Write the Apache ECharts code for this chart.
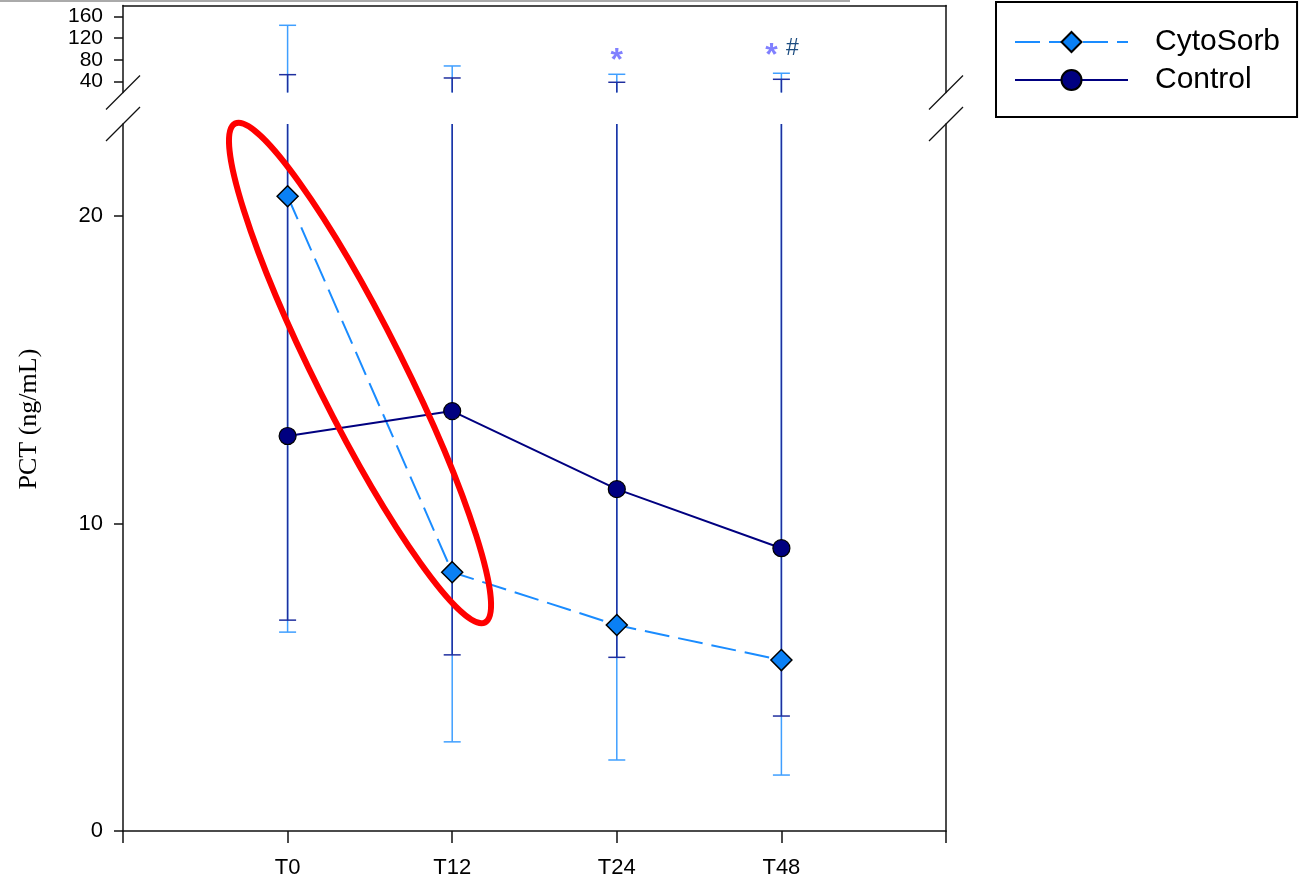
<!DOCTYPE html>
<html><head><meta charset="utf-8">
<script src="https://cdn.jsdelivr.net/npm/echarts@6/dist/echarts.min.js"></script>
<style>html,body{margin:0;padding:0;background:#fff}#c{width:1308px;height:882px}</style>
</head><body><div id="c"></div>
<script>
// ---- data ----
const categories = ['T0', 'T12', 'T24', 'T48'];
const cytoMean = [20.65, 8.42, 6.70, 5.56];
const cytoLow  = [6.47, 2.90, 2.31, 1.82];
const cytoHigh = [143.6, 68.8, 53.5, 55.4];
const ctrlMean = [12.85, 13.66, 11.12, 9.20];
const ctrlLow  = [6.86, 5.73, 5.65, 3.74];
const ctrlHigh = [52.8, 46.7, 38.8, 44.3];
const sigStarLevel = [null, null, 92, 101];   // '*' markers
const sigHashLevel = [null, null, null, 101]; // '#' markers
const upperTicks = [40, 80, 120, 160];
const lowerTicks = [0, 10, 20];
const yTitle = 'PCT (ng/mL)';

const FONT = '"Liberation Sans", Arial, sans-serif';
const AX = '#111';
const chart = echarts.init(document.getElementById('c'));

function errRender(color) {
  return function (params, api) {
    const x = api.value(0);
    const pLow = api.coord([x, api.value(1)]);
    const pHigh = api.coord([x, api.value(2)]);
    const cs = params.coordSys;
    const yTop = cs.y, yBot = cs.y + cs.height;
    const a = Math.max(pHigh[1], yTop), b = Math.min(pLow[1], yBot);
    const children = [];
    const style = { stroke: color, lineWidth: 1.5 };
    const hw = 8.5;
    if (b > a) children.push({ type: 'line', shape: { x1: pLow[0], y1: a, x2: pLow[0], y2: b }, style });
    [pLow, pHigh].forEach(p => {
      if (p[1] >= yTop - 0.5 && p[1] <= yBot + 0.5)
        children.push({ type: 'line', shape: { x1: p[0] - hw, y1: p[1], x2: p[0] + hw, y2: p[1] }, style });
    });
    return { type: 'group', children };
  };
}
function sigRender(ch, color, font, dy) {
  return function (params, api) {
    const v = api.value(1);
    if (isNaN(v)) return null;
    const i = api.value(0);
    const p = api.coord([i, v]);
    let shift = 0;
    if (ch === '*' && sigHashLevel[i] != null) shift = -10;
    if (ch === '#') shift = 11;
    return { type: 'text', x: p[0] + shift, y: p[1] + dy,
      style: { text: ch, fill: color, font: font, align: 'center', verticalAlign: 'middle' } };
  };
}
const errData = (lo, hi) => categories.map((c, i) => [i, lo[i], hi[i]]);
const ptData = (m) => categories.map((c, i) => [i, m[i]]);

const series = [];
[[0, 0], [1, 2]].forEach(([xi, yi]) => {
  series.push({ type: 'custom', xAxisIndex: xi, yAxisIndex: yi, z: 2, silent: true,
    renderItem: errRender('#3f9fff'), data: errData(cytoLow, cytoHigh), encode: { x: 0, y: [1, 2] } });
  series.push({ type: 'custom', xAxisIndex: xi, yAxisIndex: yi, z: 2, silent: true,
    renderItem: errRender('#1f2f9f'), data: errData(ctrlLow, ctrlHigh), encode: { x: 0, y: [1, 2] } });
});
series.push({ name: 'CytoSorb', type: 'line', xAxisIndex: 1, yAxisIndex: 2, z: 3,
  data: ptData(cytoMean), symbol: 'diamond', symbolSize: 21,
  itemStyle: { color: '#0a80f5', borderColor: '#000', borderWidth: 1.5 },
  lineStyle: { color: '#1a8cff', width: 2, type: [25, 9] } });
series.push({ name: 'Control', type: 'line', xAxisIndex: 1, yAxisIndex: 2, z: 3,
  data: ptData(ctrlMean), symbol: 'circle', symbolSize: 17,
  itemStyle: { color: '#000080', borderColor: '#000', borderWidth: 1.2 },
  lineStyle: { color: '#000080', width: 2 } });
series.push({ type: 'custom', xAxisIndex: 0, yAxisIndex: 0, z: 4, silent: true,
  renderItem: sigRender('*', '#8080ff', 'bold 32px ' + FONT, 8), data: ptData(sigStarLevel), encode: { x: 0, y: 1 } });
series.push({ type: 'custom', xAxisIndex: 0, yAxisIndex: 0, z: 4, silent: true,
  renderItem: sigRender('#', '#1c4c80', '23px ' + FONT, 0), data: ptData(sigHashLevel), encode: { x: 0, y: 1 } });

const lineAx = { show: true, onZero: false, lineStyle: { color: AX, width: 1.5 } };
const option = {
  backgroundColor: '#fff',
  animation: false,
  grid: [
    { left: 123, right: 362, top: 5.5, height: 87 },
    { left: 123, right: 362, top: 124, bottom: 51 }
  ],
  xAxis: [
    { gridIndex: 0, type: 'value', min: -1, max: 4, interval: 1, position: 'top',
      axisLine: lineAx, axisTick: { show: false }, axisLabel: { show: false }, splitLine: { show: false } },
    { gridIndex: 1, type: 'value', min: -1, max: 4, interval: 1, position: 'bottom',
      axisLine: lineAx, axisTick: { show: true, length: 12, lineStyle: { color: AX, width: 1.5 } },
      axisLabel: { formatter: v => categories[v] || '', fontSize: 22, fontFamily: FONT, color: '#000', margin: 26,
        showMinLabel: true, showMaxLabel: true },
      splitLine: { show: false } }
  ],
  yAxis: [
    { gridIndex: 0, type: 'value', min: 20, max: 180, position: 'left', axisLine: lineAx,
      axisTick: { show: true, length: 9, interval: 0, customValues: upperTicks, lineStyle: { color: AX, width: 1.5 } },
      axisLabel: { customValues: upperTicks, interval: 0, hideOverlap: false, fontSize: 21, lineHeight: 21,
        fontFamily: FONT, color: '#000', margin: 20 },
      splitLine: { show: false } },
    { gridIndex: 0, type: 'value', min: 20, max: 180, position: 'right', axisLine: lineAx,
      axisTick: { show: false }, axisLabel: { show: false }, splitLine: { show: false } },
    { gridIndex: 1, type: 'value', min: 0, max: 23, position: 'left', axisLine: lineAx,
      axisTick: { show: true, length: 9, customValues: lowerTicks, lineStyle: { color: AX, width: 1.5 } },
      axisLabel: { customValues: lowerTicks, fontSize: 22, fontFamily: FONT, color: '#000', margin: 20 },
      splitLine: { show: false } },
    { gridIndex: 1, type: 'value', min: 0, max: 23, position: 'right', axisLine: lineAx,
      axisTick: { show: false }, axisLabel: { show: false }, splitLine: { show: false } }
  ],
  legend: {
    data: ['CytoSorb', 'Control'], orient: 'vertical', left: 996, top: 2,
    itemWidth: 113, itemHeight: 25, itemGap: 8,
    padding: [25, 17, 22, 18], borderColor: '#000', borderWidth: 2, backgroundColor: '#fff',
    textStyle: { fontSize: 30, fontFamily: FONT, color: '#000', padding: [0, 0, 0, 22] },
    selectedMode: false
  },
  series
};
chart.setOption(option);

// ---- annotations (axis breaks, title, highlight ellipse) ----
const upBL = chart.convertToPixel({ xAxisIndex: 0, yAxisIndex: 0 }, [-1, 20]);
const upBR = chart.convertToPixel({ xAxisIndex: 0, yAxisIndex: 0 }, [4, 20]);
const loTL = chart.convertToPixel({ xAxisIndex: 1, yAxisIndex: 2 }, [-1, 23]);
const loTR = chart.convertToPixel({ xAxisIndex: 1, yAxisIndex: 2 }, [4, 23]);
const slash = (p) => ({ type: 'line', shape: { x1: p[0] - 17, y1: p[1] + 17, x2: p[0] + 17, y2: p[1] - 17 },
  style: { stroke: '#111', lineWidth: 1.3 }, z: 10 });
const ellC = chart.convertToPixel({ xAxisIndex: 1, yAxisIndex: 2 }, [0.44, 14.9]);
const lowMid = chart.convertToPixel({ xAxisIndex: 1, yAxisIndex: 2 }, [-1, 13.4]);
chart.setOption({
  graphic: [
    { type: 'line', shape: { x1: 0, y1: 1, x2: 850, y2: 1 }, style: { stroke: '#aaa', lineWidth: 2 } },
    slash(upBL), slash(upBR), slash(loTL), slash(loTR),
    { type: 'text', x: 29, y: lowMid[1], rotation: Math.PI / 2,
      style: { text: yTitle, font: '26px "Liberation Serif", "Times New Roman", serif', fill: '#000',
        align: 'center', verticalAlign: 'middle' } },
    { type: 'ellipse', x: ellC[0], y: ellC[1], rotation: -63.4 * Math.PI / 180,
      shape: { cx: 0, cy: 0, rx: 279, ry: 44 },
      style: { fill: 'none', stroke: '#ff0000', lineWidth: 6 }, z: 20 }
  ]
});
</script></body></html>
